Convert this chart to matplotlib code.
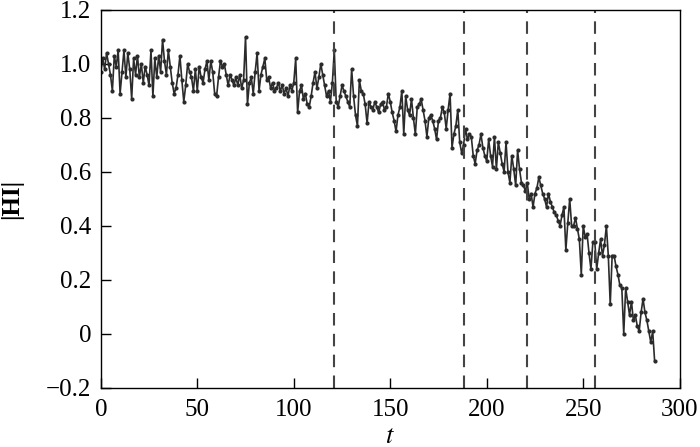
import numpy as np
import matplotlib
matplotlib.use("Agg")
from matplotlib import pyplot as plt

# |HI|, one value per time step, split at the dashed lines
stage_1 = [0.97, 1.02, 0.98, 1.04, 1.00, 0.96, 0.90, 1.03, 0.99, 1.05,
           0.89, 0.97, 1.05, 0.95, 1.04, 0.98, 0.87, 1.02, 0.96, 1.03,
           0.95, 1.00, 0.93, 0.99, 0.96, 0.92, 1.05, 0.88, 1.02, 0.95,
           1.03, 0.97, 1.09, 1.01, 0.96, 1.05, 0.99, 0.93, 0.89, 0.91,
           0.96, 1.03, 0.94, 0.86, 0.92, 1.00, 0.97, 0.95, 0.90, 0.98,
           0.90, 0.99, 0.95, 0.93, 0.98, 1.01, 0.94, 1.01, 0.97, 0.89,
           0.88, 0.95, 1.01, 0.99, 1.00, 0.96, 0.92, 0.96, 0.94, 0.92,
           0.95, 0.92, 0.96, 0.91, 0.94, 1.10, 0.85, 0.93, 0.95, 0.89,
           0.97, 1.04, 0.90, 0.96, 0.99, 1.02, 0.94, 0.95, 0.91, 0.93,
           0.90, 0.91, 0.93, 0.90, 0.92, 0.89, 0.91, 0.88, 0.92, 0.90,
           0.93, 1.02, 0.82, 0.90, 0.92, 0.87, 0.89, 0.85, 0.84, 0.88,
           0.93, 0.97, 0.91, 0.95, 1.00, 0.96, 0.92, 0.88, 0.90, 0.86, 0.93, 1.05]
stage_2 = [0.86, 0.84, 0.88, 0.92, 0.90, 0.88, 0.86, 0.84, 0.98, 0.88,
           0.81, 0.77, 0.94, 0.90, 0.89, 0.85, 0.78, 0.86, 0.84, 0.83,
           0.86, 0.84, 0.82, 0.85, 0.86, 0.83, 0.84, 0.89, 0.86, 0.82,
           0.79, 0.75, 0.81, 0.84, 0.90, 0.74, 0.88, 0.83, 0.81, 0.87,
           0.80, 0.74, 0.84, 0.85, 0.87, 0.83, 0.79, 0.73, 0.80, 0.81,
           0.79, 0.76, 0.72, 0.79, 0.80, 0.84, 0.82, 0.76, 0.83, 0.89,
           0.69, 0.74, 0.77, 0.83, 0.71, 0.67, 0.70]
stage_3 = [0.76, 0.72, 0.74, 0.73, 0.66, 0.63, 0.68, 0.70, 0.74, 0.69,
           0.66, 0.64, 0.72, 0.66, 0.62, 0.73, 0.61, 0.71, 0.67, 0.63,
           0.60, 0.71, 0.60, 0.56, 0.66, 0.61, 0.55, 0.68, 0.61, 0.56,
           0.55, 0.53, 0.56]
stage_4 = [0.50, 0.52, 0.47, 0.52, 0.54, 0.58, 0.55, 0.52, 0.50, 0.47,
           0.52, 0.49, 0.47, 0.45, 0.44, 0.42, 0.40, 0.44, 0.47, 0.31,
           0.41, 0.50, 0.40, 0.40, 0.43, 0.39, 0.35, 0.22, 0.40, 0.36,
           0.37, 0.30, 0.24, 0.34, 0.34]
stage_5 = [0.24, 0.30, 0.35, 0.29, 0.33, 0.40, 0.29, 0.11, 0.29, 0.29,
           0.25, 0.22, 0.18, 0.17, 0.00, 0.17, 0.12, 0.07, 0.12, 0.05,
           0.07, 0.03, 0.01, 0.08, 0.13, 0.08, 0.05, 0.01, -0.03, 0.01,
           -0.10]

# stage boundaries (dashed lines)
boundaries = [121, 188, 221, 256]

x_ticks = [0, 50, 100, 150, 200, 250, 300]
y_ticks = [-0.2, 0, 0.2, 0.4, 0.6, 0.8, 1.0, 1.2]
y_tick_labels = ["\u22120.2", "0", "0.2", "0.4", "0.6", "0.8", "1.0", "1.2"]

plt.rcParams["font.family"] = ["Liberation Serif", "DejaVu Serif"]
plt.rcParams["mathtext.fontset"] = "stix"

hi = np.array(stage_1 + stage_2 + stage_3 + stage_4 + stage_5)
t = np.arange(len(hi))

fig = plt.figure(figsize=(7.0, 4.47), dpi=100)
ax = fig.add_axes([0.144, 0.132, 0.827, 0.846])

ax.plot(t, hi, color="#2b2b2b", linewidth=1.2, marker="o",
        markersize=3.0, markeredgewidth=0)
for b in boundaries:
    ax.axvline(b, color="#444444", linewidth=1.5, linestyle=(0, (6, 4)))

ax.set_xlim(0, 300)
ax.set_ylim(-0.2, 1.2)
ax.set_xticks(x_ticks)
ax.set_xticklabels([str(v) for v in x_ticks])
ax.set_yticks(y_ticks)
ax.set_yticklabels(y_tick_labels)
ax.tick_params(direction="in", length=7, width=1, labelsize=18)
ax.tick_params(axis="x", pad=8)
ax.tick_params(axis="y", pad=7)
for spine in ax.spines.values():
    spine.set_linewidth(1.0)

ax.set_xlabel("$t$", fontsize=19)
ax.xaxis.set_label_coords(0.5, -0.13)
ax.xaxis.label.set_verticalalignment("center")
ax.set_ylabel("|HI|", fontsize=18, fontweight="bold")
ax.yaxis.set_label_coords(-0.154, 0.5)
ax.yaxis.label.set_verticalalignment("center")

fig.savefig("out.png", dpi=100)
